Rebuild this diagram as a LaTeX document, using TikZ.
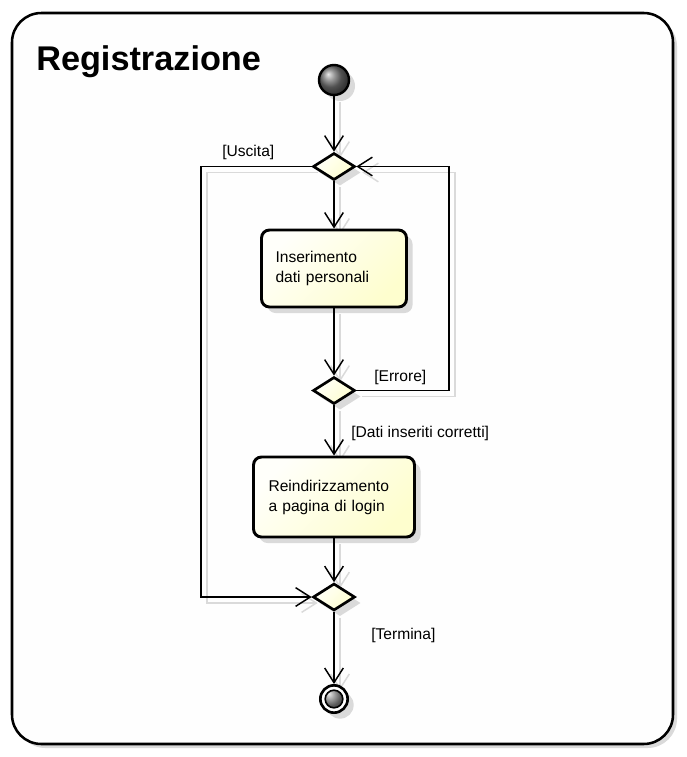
\documentclass[tikz,border=0pt]{standalone}
\usepackage{fontspec}
\setmainfont{Liberation Sans}
\usetikzlibrary{shapes.geometric,arrows.meta,shadows}
\definecolor{boxyellow}{RGB}{254,254,206}
\definecolor{boxlight}{RGB}{255,255,250}
\definecolor{shadowgray}{RGB}{218,218,218}
\definecolor{framefill}{RGB}{254,254,254}
\pgfdeclarelayer{framelayer}
\pgfdeclarelayer{background}
\pgfsetlayers{framelayer,background,main}
\newcommand\drawconns[1]{%
  \draw[conn,#1] (start) -- (d1);
  \draw[conn,#1] (d1) -- (box1);
  \draw[conn,#1] (box1) -- (d2);
  \draw[conn,#1] (d2) -- (box2);
  \draw[conn,#1] (box2) -- (d3);
  \draw[conn,#1] (d3) -- (end);
  \draw[conn,#1] (d1.west) -| (lx |- d3.west) -- (d3.west);
  \draw[conn,#1] (d2.east) -| (rx |- d1.east) -- (d1.east);
}
\begin{document}
\begin{tikzpicture}[x=0.75pt,y=-0.75pt,
  nshadow/.style={drop shadow={shadow xshift=4.5pt,shadow yshift=-4.5pt,fill=shadowgray,opacity=1}},
  conn/.style={line width=1.1pt,-{Straight Barb[length=11pt,width=14pt]}},
  lbl/.style={font=\fontsize{11.7}{15}\selectfont,inner sep=0pt,anchor=west},
  actbox/.style={draw,line width=2.2pt,rounded corners=6pt,top color=boxlight,bottom color=boxyellow,shading angle=45,align=left,font=\fontsize{11.7}{15}\selectfont,inner ysep=0pt,nshadow},
  decision/.style={diamond,draw,line width=2pt,top color=boxlight,bottom color=boxyellow,shading angle=45,minimum width=31.5pt,minimum height=20.25pt,inner sep=0pt,nshadow},
  framebox/.style={draw,line width=1.9pt,rounded corners=22pt,fill=framefill,minimum width=495.75pt,minimum height=548.25pt,inner sep=0pt,drop shadow={shadow xshift=3pt,shadow yshift=-3pt,fill=shadowgray,opacity=1}}
]
\useasboundingbox (0,0) rectangle (686,757);
\begin{pgfonlayer}{framelayer}
  \node[framebox] (frame) at (342.5,378.5) {};
\end{pgfonlayer}
\node[font=\fontsize{25.7}{30}\selectfont\bfseries,inner sep=0pt,anchor=base west] (title) at (36,70) {Registrazione};

\node[circle,draw,line width=1.8pt,minimum size=22.5pt,inner sep=0pt,ball color=black!55,nshadow] (start) at (334,80) {};
\node[decision] (d1) at (334,166.5) {};
\node[actbox,minimum height=57.75pt,text width=87.75pt,inner xsep=10.5pt] (box1) at (334,268.5) {Inserimento\\dati personali};
\node[decision] (d2) at (334,390.5) {};
\node[actbox,minimum height=60pt,text width=98.25pt,inner xsep=11.25pt] (box2) at (334,497) {Reindirizzamento\\a pagina di login};
\node[decision] (d3) at (334,597) {};
\node[circle,draw,line width=2pt,minimum size=20.5pt,inner sep=0pt,fill=white,nshadow,
  path picture={\shade[ball color=black!50] (path picture bounding box.center) circle (6.6pt);
                \draw[line width=1.2pt] (path picture bounding box.center) circle (6.6pt);}] (end) at (334,699) {};

\coordinate (lx) at (201,0);
\coordinate (rx) at (449,0);

\begin{pgfonlayer}{background}
  \begin{scope}[transform canvas={shift={(6,6)}}]
    \drawconns{draw=shadowgray}
  \end{scope}
\end{pgfonlayer}
\drawconns{draw=black}

\node[lbl] (luscita) at (222,152) {[Uscita]};
\node[lbl] (lerrore) at (374,377) {[Errore]};
\node[lbl] (ldati) at (351,433) {[Dati inseriti corretti]};
\node[lbl] (ltermina) at (371,635) {[Termina]};
\end{tikzpicture}
\end{document}
